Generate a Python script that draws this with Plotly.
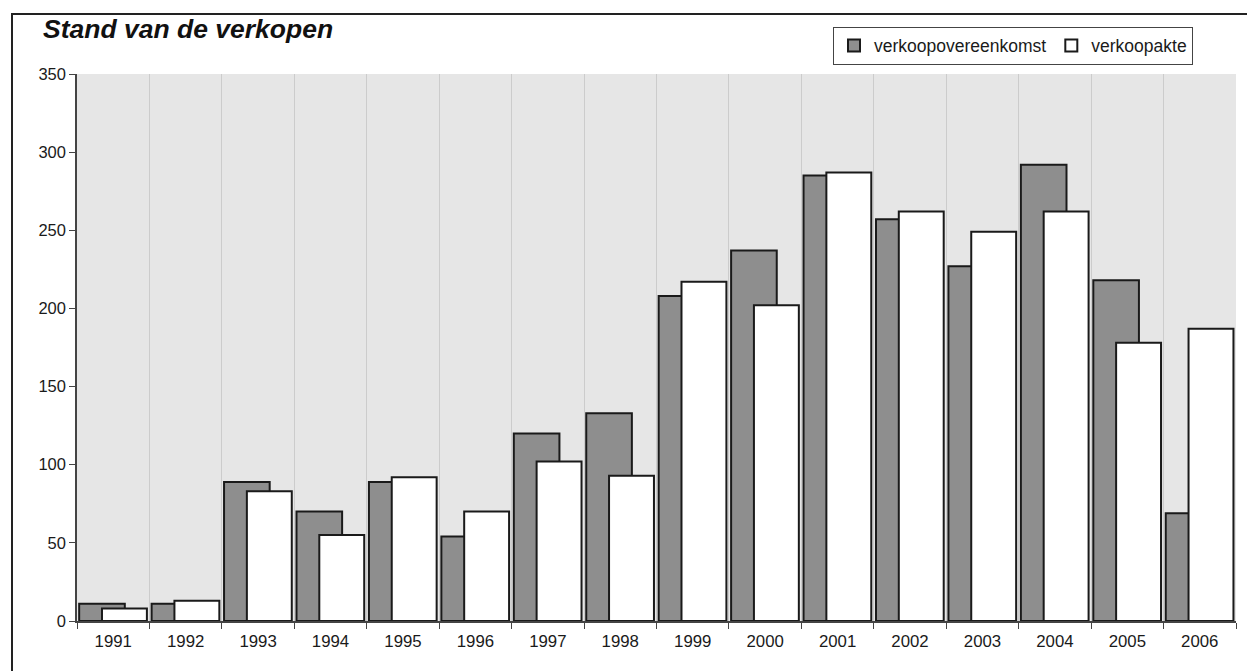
import plotly.graph_objects as go

years = ["1991", "1992", "1993", "1994", "1995", "1996", "1997", "1998",
         "1999", "2000", "2001", "2002", "2003", "2004", "2005", "2006"]
overeenkomst = [11, 11, 89, 70, 89, 54, 120, 133, 208, 237, 285, 257, 227, 292, 218, 69]
akte = [8, 13, 83, 55, 92, 70, 102, 93, 217, 202, 287, 262, 249, 262, 178, 187]

font = "Liberation Sans, Arial, sans-serif"

W, H = 1247, 663
L, R, T, B = 69, 19, 66, 50
pw, ph = W - L - R, H - T - B

fig = go.Figure()
fig.add_trace(go.Bar(
    x=years, y=overeenkomst, name="verkoopovereenkomst",
    marker=dict(color="#8e8e8e", line=dict(color="#1a1a1a", width=2)),
    width=0.63, offset=-0.47,
))
fig.add_trace(go.Bar(
    x=years, y=akte, name="verkoopakte",
    marker=dict(color="#ffffff", line=dict(color="#1a1a1a", width=2)),
    width=0.62, offset=-0.155,
))

fig.update_layout(
    width=W, height=H,
    margin=dict(l=L, r=R, t=T, b=B, autoexpand=False),
    paper_bgcolor="white",
    plot_bgcolor="#e6e6e6",
    barmode="overlay",
    showlegend=True,
    font=dict(family=font, size=16.5, color="#1a1a1a"),
    title=dict(text="<b><i>Stand van de verkopen</i></b>", x=35 / W, xanchor="left",
               y=1 - 21 / H, yanchor="middle", font=dict(family=font, size=26.5, color="#111")),
    legend=dict(orientation="h", x=(1185 - L) / pw, xanchor="right",
                y=(ph + T - 37.5) / ph, yanchor="middle",
                bordercolor="#444", borderwidth=1, bgcolor="white",
                font=dict(family=font, size=17.5), traceorder="normal"),
    xaxis=dict(type="category", tickson="boundaries", showgrid=True, gridcolor="#cccccc",
               gridwidth=1, ticks="outside", ticklen=6, tickcolor="#444",
               showline=True, linecolor="#444", linewidth=1.5, ticklabelstandoff=4,
               tickfont=dict(family=font, size=16.8), range=[-0.5, 15.5]),
    yaxis=dict(range=[0, 350], dtick=50, showgrid=False, ticks="outside", ticklen=6,
               tickcolor="#444", showline=True, linecolor="#444", linewidth=1.5,
               tickfont=dict(family=font, size=16.5), zeroline=False),
    shapes=[dict(type="rect", xref="paper", yref="paper",
                 x0=(4 - L) / pw, x1=1.05, y0=-0.2, y1=(ph + T - 6) / ph,
                 line=dict(color="#222", width=2), fillcolor="rgba(0,0,0,0)", layer="below")],
)

fig.write_html("out.html")
